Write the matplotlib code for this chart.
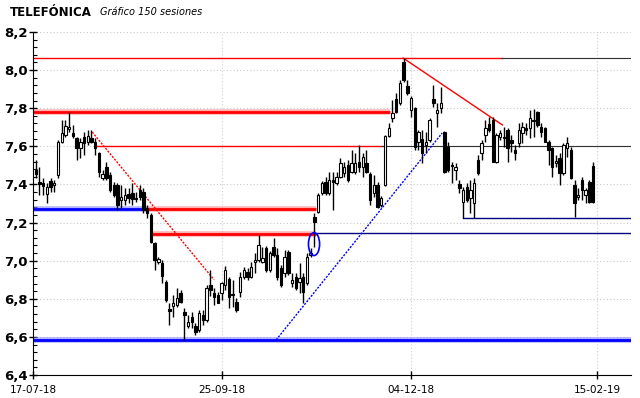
import matplotlib.pyplot as plt
import numpy as np
from matplotlib.patches import Ellipse
from matplotlib.ticker import MultipleLocator, FuncFormatter

# daily candles, 151 sessions (euros)
opens = [7.476, 7.413, 7.407, 7.350, 7.418, 7.397, 7.449, 7.623, 7.659, 7.691,
         7.670, 7.644, 7.591, 7.649, 7.623, 7.644, 7.623, 7.565, 7.434, 7.491,
         7.449, 7.397, 7.397, 7.318, 7.318, 7.350, 7.355, 7.329, 7.371, 7.360,
         7.276, 7.240, 7.093, 6.993, 6.988, 6.888, 6.746, 6.762, 6.767, 6.830,
         6.731, 6.657, 6.704, 6.657, 6.636, 6.715, 6.689, 6.872, 6.830, 6.820,
         6.830, 6.872, 6.904, 6.825, 6.783, 6.836, 6.914, 6.940, 6.914, 6.993,
         7.003, 6.993, 7.066, 6.951, 7.072, 7.030, 6.961, 6.935, 7.045, 6.883,
         6.914, 6.888, 6.914, 6.883, 7.030, 7.229, 7.255, 7.355, 7.413, 7.355,
         7.423, 7.407, 7.439, 7.460, 7.502, 7.465, 7.465, 7.518, 7.491, 7.512,
         7.455, 7.355, 7.397, 7.292, 7.397, 7.654, 7.748, 7.848, 7.827, 8.042,
         7.916, 7.790, 7.801, 7.623, 7.638, 7.607, 7.633, 7.848, 7.775, 7.801,
         7.675, 7.596, 7.502, 7.476, 7.402, 7.308, 7.386, 7.329, 7.302, 7.528,
         7.565, 7.659, 7.717, 7.738, 7.518, 7.649, 7.649, 7.685, 7.633, 7.581,
         7.617, 7.670, 7.696, 7.696, 7.733, 7.780, 7.701, 7.696, 7.623, 7.591,
         7.512, 7.539, 7.460, 7.591, 7.581, 7.397, 7.334, 7.423, 7.344, 7.413,
         7.497]
highs = [7.528, 7.491, 7.434, 7.407, 7.434, 7.423, 7.633, 7.738, 7.738, 7.780,
         7.712, 7.649, 7.644, 7.675, 7.685, 7.685, 7.644, 7.570, 7.476, 7.518,
         7.465, 7.413, 7.407, 7.397, 7.381, 7.381, 7.407, 7.360, 7.397, 7.381,
         7.292, 7.250, 7.098, 7.019, 7.003, 6.898, 6.778, 6.820, 6.857, 6.846,
         6.752, 6.715, 6.731, 6.673, 6.741, 6.741, 6.872, 6.951, 6.857, 6.836,
         6.888, 6.972, 6.914, 6.898, 6.804, 6.940, 6.967, 6.961, 6.993, 7.040,
         7.134, 7.072, 7.077, 7.051, 7.119, 7.066, 6.977, 7.056, 7.056, 6.935,
         6.935, 6.988, 6.935, 7.040, 7.066, 7.250, 7.355, 7.418, 7.439, 7.465,
         7.465, 7.465, 7.539, 7.518, 7.528, 7.581, 7.565, 7.607, 7.565, 7.581,
         7.465, 7.449, 7.413, 7.339, 7.659, 7.722, 7.843, 7.880, 7.948, 8.063,
         7.948, 7.864, 7.806, 7.685, 7.685, 7.675, 7.748, 7.922, 7.827, 7.911,
         7.680, 7.623, 7.518, 7.512, 7.423, 7.386, 7.407, 7.423, 7.434, 7.554,
         7.633, 7.738, 7.754, 7.754, 7.670, 7.685, 7.701, 7.696, 7.659, 7.607,
         7.722, 7.727, 7.722, 7.790, 7.796, 7.785, 7.722, 7.701, 7.633, 7.596,
         7.554, 7.565, 7.617, 7.649, 7.596, 7.423, 7.381, 7.439, 7.381, 7.423,
         7.518]
lows = [7.434, 7.344, 7.344, 7.302, 7.360, 7.360, 7.434, 7.617, 7.649, 7.675,
        7.644, 7.528, 7.539, 7.554, 7.607, 7.617, 7.554, 7.439, 7.423, 7.423,
        7.360, 7.334, 7.266, 7.276, 7.292, 7.302, 7.292, 7.308, 7.318, 7.250,
        7.224, 7.093, 6.951, 6.982, 6.883, 6.783, 6.662, 6.704, 6.757, 6.778,
        6.584, 6.647, 6.647, 6.610, 6.626, 6.662, 6.678, 6.815, 6.767, 6.778,
        6.794, 6.846, 6.752, 6.757, 6.731, 6.809, 6.904, 6.898, 6.909, 6.935,
        6.993, 6.988, 6.940, 6.940, 7.019, 6.898, 6.862, 6.914, 6.925, 6.862,
        6.846, 6.830, 6.778, 6.872, 7.019, 7.072, 7.250, 7.344, 7.344, 7.344,
        7.266, 7.397, 7.434, 7.439, 7.413, 7.460, 7.455, 7.465, 7.439, 7.460,
        7.292, 7.334, 7.276, 7.281, 7.392, 7.649, 7.727, 7.775, 7.817, 7.937,
        7.869, 7.754, 7.581, 7.581, 7.512, 7.565, 7.623, 7.806, 7.701, 7.775,
        7.460, 7.465, 7.407, 7.423, 7.355, 7.224, 7.308, 7.250, 7.224, 7.449,
        7.528, 7.623, 7.675, 7.518, 7.512, 7.633, 7.596, 7.518, 7.570, 7.528,
        7.596, 7.617, 7.659, 7.644, 7.649, 7.701, 7.649, 7.623, 7.502, 7.439,
        7.491, 7.397, 7.449, 7.544, 7.428, 7.229, 7.318, 7.318, 7.302, 7.302,
        7.302]
closes = [7.455, 7.402, 7.392, 7.386, 7.386, 7.407, 7.623, 7.670, 7.706, 7.701,
          7.654, 7.591, 7.623, 7.617, 7.654, 7.623, 7.591, 7.465, 7.455, 7.434,
          7.371, 7.344, 7.292, 7.334, 7.344, 7.329, 7.323, 7.323, 7.334, 7.266,
          7.250, 7.098, 7.003, 7.009, 6.919, 6.794, 6.736, 6.778, 6.804, 6.783,
          6.715, 6.678, 6.678, 6.626, 6.725, 6.689, 6.857, 6.846, 6.809, 6.778,
          6.883, 6.951, 6.809, 6.820, 6.741, 6.914, 6.951, 6.914, 6.967, 7.003,
          7.082, 7.014, 6.951, 7.040, 7.030, 6.914, 6.872, 7.019, 6.935, 6.898,
          6.857, 6.909, 6.836, 7.019, 7.040, 7.203, 7.344, 7.407, 7.355, 7.423,
          7.413, 7.439, 7.512, 7.491, 7.423, 7.512, 7.512, 7.491, 7.544, 7.465,
          7.318, 7.397, 7.281, 7.329, 7.654, 7.696, 7.775, 7.780, 7.932, 7.948,
          7.880, 7.853, 7.596, 7.675, 7.565, 7.623, 7.738, 7.827, 7.790, 7.827,
          7.465, 7.476, 7.497, 7.491, 7.381, 7.371, 7.318, 7.371, 7.407, 7.460,
          7.617, 7.696, 7.685, 7.518, 7.659, 7.670, 7.644, 7.591, 7.617, 7.565,
          7.685, 7.701, 7.685, 7.748, 7.738, 7.712, 7.675, 7.623, 7.581, 7.491,
          7.523, 7.460, 7.607, 7.617, 7.434, 7.302, 7.344, 7.371, 7.371, 7.308,
          7.308]

date_ticks = [-0.73, 50.1, 101, 151.1]
date_labels = ["17-07-18", "25-09-18", "04-12-18", "15-02-19"]

# support / resistance levels: (price, from session, to session)
red_levels = [(7.78, -1, 95.4), (7.27, 30, 75.4), (7.14, 31.3, 75.4)]
blue_levels = [(7.27, -1, 30), (6.585, -1, 162)]
thin_red_levels = [(8.063, -1, 125.6), (7.60, 16.5, 93.3)]
thin_black_levels = [(8.063, 125.6, 162), (7.60, 93.3, 162)]
thin_navy_levels = [(7.145, 75.4, 162), (7.224, 115, 162)]
# trend lines: (session0, price0, session1, price1)
red_dashed = (15.2, 7.675, 48.0, 6.90)
red_trend = (98.9, 8.063, 125.6, 7.712)
blue_trend = (64.7, 6.584, 109.4, 7.670)
gap_mark = (74.9, 7.087)

fig = plt.figure(figsize=(6.4, 3.98), dpi=100)
ax = fig.add_axes([33 / 640, 23 / 398, 598 / 640, 343 / 398])

x = np.arange(len(closes))
o = np.array(opens)
c = np.array(closes)
up = c >= o

for y in np.arange(6.4, 8.21, 0.2):
    ax.axhline(y, color='#c8c8c8', lw=0.8, ls=(0, (1, 2)), zorder=1)
for t in date_ticks[1:]:
    ax.axvline(t, color='#d8c8d8', lw=0.8, ls=(0, (1, 2)), zorder=1)

for p, a, b in red_levels:
    ax.plot([a, b], [p, p], color='#ff8080', lw=4.0, alpha=0.6, zorder=2, solid_capstyle='butt')
    ax.plot([a, b], [p, p], color='#ff0000', lw=2.0, zorder=2, solid_capstyle='butt')
for p, a, b in blue_levels:
    ax.plot([a, b], [p, p], color='#8080ff', lw=4.0, alpha=0.6, zorder=2, solid_capstyle='butt')
    ax.plot([a, b], [p, p], color='#0000ff', lw=2.0, zorder=2, solid_capstyle='butt')
for p, a, b in thin_red_levels:
    ax.plot([a, b], [p, p], color='#ff0000', lw=1.0, zorder=2)
for p, a, b in thin_black_levels:
    ax.plot([a, b], [p, p], color='#303030', lw=0.8, zorder=2)
for p, a, b in thin_navy_levels:
    ax.plot([a, b], [p, p], color='#000080', lw=1.0, zorder=2)

ax.plot(red_dashed[::2], red_dashed[1::2], color='#ff0000', lw=1.0, ls=(0, (1.5, 1)), zorder=2)
ax.plot(red_trend[::2], red_trend[1::2], color='#ff0000', lw=1.0, zorder=2)
ax.plot(blue_trend[::2], blue_trend[1::2], color='#0000ff', lw=1.0, ls=(0, (1.5, 1)), zorder=2)
ax.add_patch(Ellipse(gap_mark, 3.0, 0.12, fill=False, edgecolor='#0000ff', lw=1.2, zorder=4))

ax.vlines(x, lows, highs, color='black', lw=1.0, zorder=3)
bottom = np.minimum(o, c)
height = np.maximum(np.abs(c - o), 0.004)
ax.bar(x, height, 0.65, bottom=bottom, color=np.where(up, 'white', 'black'),
       edgecolor='black', linewidth=0.8, zorder=3)

ax.set_xlim(-0.73, 160.2)
ax.set_ylim(6.4, 8.2)
ax.yaxis.set_major_locator(MultipleLocator(0.2))
ax.yaxis.set_minor_locator(MultipleLocator(0.04))
ax.yaxis.set_major_formatter(FuncFormatter(lambda v, _: f"{v:.1f}".replace('.', ',')))
ax.set_xticks(date_ticks)
ax.set_xticklabels(date_labels, fontsize=7.5)
for lbl in ax.get_yticklabels():
    lbl.set_fontweight('bold')
    lbl.set_fontsize(9.5)
ax.tick_params(axis='y', which='major', direction='inout', length=6, width=1, pad=1)
ax.tick_params(axis='y', which='minor', direction='in', length=3, width=0.8)
ax.tick_params(axis='x', direction='inout', length=6, width=1, pad=4)
ax.spines['top'].set_visible(False)
ax.spines['right'].set_visible(False)

fig.text(10 / 640, 1 - 12 / 398, "TELEFÓNICA", fontsize=8.5, fontweight='bold', va='center')
fig.text(100 / 640, 1 - 12 / 398, "Gráfico 150 sesiones", fontsize=7, style='italic', va='center')

fig.savefig("out.png", dpi=100)
